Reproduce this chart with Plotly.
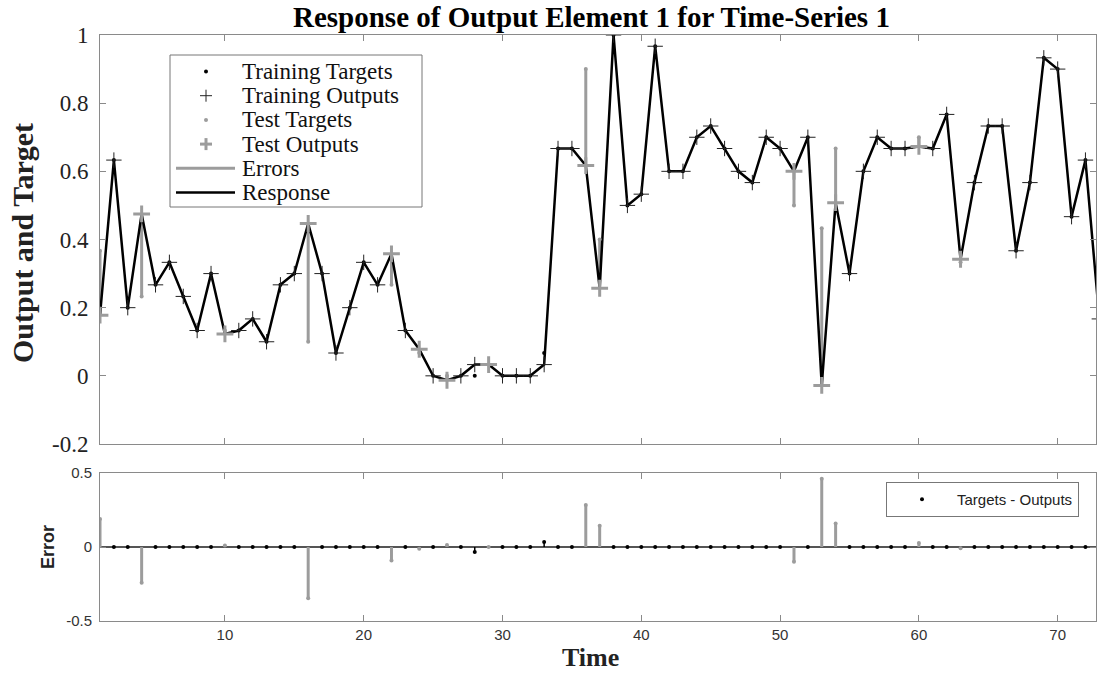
import plotly.graph_objects as go

# ---------------- data ----------------
time = list(range(1, 74))
outputs = [0.178, 0.633, 0.2, 0.475, 0.267, 0.333, 0.233, 0.133, 0.3, 0.123,
           0.133, 0.167, 0.1, 0.267, 0.3, 0.447, 0.3, 0.067, 0.2, 0.333,
           0.267, 0.358, 0.133, 0.078, 0.0, -0.013, 0.0, 0.033, 0.033, 0.0,
           0.0, 0.0, 0.033, 0.667, 0.667, 0.617, 0.257, 1.0, 0.5, 0.533,
           0.967, 0.6, 0.6, 0.7, 0.733, 0.667, 0.6, 0.567, 0.7, 0.667,
           0.6, 0.7, -0.028, 0.508, 0.3, 0.6, 0.7, 0.667, 0.667, 0.673,
           0.667, 0.767, 0.342, 0.567, 0.733, 0.733, 0.367, 0.567, 0.933, 0.9,
           0.467, 0.633, 0.167]
targets = [0.367, 0.633, 0.2, 0.233, 0.267, 0.333, 0.233, 0.133, 0.3, 0.133,
           0.133, 0.167, 0.1, 0.267, 0.3, 0.1, 0.3, 0.067, 0.2, 0.333,
           0.267, 0.267, 0.133, 0.067, 0.0, 0.0, 0.0, 0.0, 0.033, 0.0,
           0.0, 0.0, 0.067, 0.667, 0.667, 0.9, 0.4, 1.0, 0.5, 0.533,
           0.967, 0.6, 0.6, 0.7, 0.733, 0.667, 0.6, 0.567, 0.7, 0.667,
           0.5, 0.7, 0.433, 0.667, 0.3, 0.6, 0.7, 0.667, 0.667, 0.7,
           0.667, 0.767, 0.333, 0.567, 0.733, 0.733, 0.367, 0.567, 0.933, 0.9,
           0.467, 0.633, 0.167]
test_times = [1, 4, 10, 16, 22, 24, 26, 29, 36, 37, 51, 53, 54, 60, 63]
x_ticks = [10, 20, 30, 40, 50, 60, 70]
y_ticks_top = [-0.2, 0, 0.2, 0.4, 0.6, 0.8, 1]
y_ticklabels_top = ["-0.2", "0", "0.2", "0.4", "0.6", "0.8", "1"]
y_ticks_err = [-0.5, 0, 0.5]
y_ticklabels_err = ["-0.5", "0", "0.5"]
legend_labels = ["Training Targets", "Training Outputs", "Test Targets",
                 "Test Outputs", "Errors", "Response"]

# ---------------- derived ----------------
errors = [t - o for t, o in zip(targets, outputs)]
is_test = [tt in test_times for tt in time]
tr_t = [tt for tt, f in zip(time, is_test) if not f]
tr_tar = [v for v, f in zip(targets, is_test) if not f]
tr_out = [v for v, f in zip(outputs, is_test) if not f]
tr_err = [v for v, f in zip(errors, is_test) if not f]
te_t = [tt for tt, f in zip(time, is_test) if f]
te_tar = [v for v, f in zip(targets, is_test) if f]
te_out = [v for v, f in zip(outputs, is_test) if f]
te_err = [v for v, f in zip(errors, is_test) if f]

seg_x, seg_y = [], []
for tt, a, b in zip(te_t, te_tar, te_out):
    seg_x += [tt, tt, None]
    seg_y += [a, b, None]

stem_x, stem_y = [], []
for tt, e in zip(te_t, te_err):
    stem_x += [tt, tt, None]
    stem_y += [0, e, None]
trstem_x, trstem_y = [], []
for tt, e in zip(tr_t, tr_err):
    trstem_x += [tt, tt, None]
    trstem_y += [0, e, None]

GRAY = "#9c9c9c"
AX = "#8a8a8a"
SERIF = "Liberation Serif"
SANS = "Liberation Sans"

W, H = 1097, 673
ML, MR, MT, MB = 100, 1, 35, 52
PW, PH = W - ML - MR, H - MT - MB


def px(xpix):
    return (xpix - ML) / PW


def py(ypix):
    return (H - MB - ypix) / PH


fig = go.Figure()

# top plot
fig.add_trace(go.Scatter(x=seg_x, y=seg_y, mode="lines", name="Errors",
                         line=dict(color=GRAY, width=3), showlegend=False,
                         xaxis="x", yaxis="y"))
fig.add_trace(go.Scatter(x=time, y=outputs, mode="lines", name="Response",
                         line=dict(color="black", width=2.5), showlegend=False,
                         xaxis="x", yaxis="y"))
fig.add_trace(go.Scatter(x=tr_t, y=tr_tar, mode="markers", name="Training Targets",
                         marker=dict(color="black", size=4), showlegend=False,
                         xaxis="x", yaxis="y"))
fig.add_trace(go.Scatter(x=tr_t, y=tr_out, mode="markers", name="Training Outputs",
                         marker=dict(symbol="cross-thin", size=11,
                                     line=dict(color="#222", width=1)),
                         showlegend=False, xaxis="x", yaxis="y"))
fig.add_trace(go.Scatter(x=te_t, y=te_tar, mode="markers", name="Test Targets",
                         marker=dict(color=GRAY, size=4), showlegend=False,
                         xaxis="x", yaxis="y"))
fig.add_trace(go.Scatter(x=te_t, y=te_out, mode="markers", name="Test Outputs",
                         marker=dict(symbol="cross-thin", size=12,
                                     line=dict(color=GRAY, width=3)),
                         showlegend=False, xaxis="x", yaxis="y"))

# bottom plot
fig.add_trace(go.Scatter(x=stem_x, y=stem_y, mode="lines", showlegend=False,
                         line=dict(color=GRAY, width=3), xaxis="x2", yaxis="y2"))
fig.add_trace(go.Scatter(x=trstem_x, y=trstem_y, mode="lines", showlegend=False,
                         line=dict(color="black", width=1.5), xaxis="x2", yaxis="y2"))
fig.add_trace(go.Scatter(x=te_t, y=te_err, mode="markers", showlegend=False,
                         marker=dict(color=GRAY, size=4), xaxis="x2", yaxis="y2"))
fig.add_trace(go.Scatter(x=tr_t, y=tr_err, mode="markers", name="Targets - Outputs",
                         marker=dict(color="black", size=4), legend="legend2",
                         xaxis="x2", yaxis="y2"))

# ---------------- legend of the top plot (layout glyphs) ----------------
shapes = []
annotations = []
box_l, box_r, box_t, box_b = 170, 422, 55, 207
shapes.append(dict(type="rect", xref="paper", yref="paper", layer="above",
                   x0=px(box_l), x1=px(box_r), y0=py(box_b), y1=py(box_t),
                   line=dict(color="#777", width=1), fillcolor="white"))
sym_cx, line_l, line_r, text_l = 206, 176, 235, 240
for i, lab in enumerate(legend_labels):
    cy = 71.5 + 24.2 * i
    if lab in ("Training Targets", "Test Targets"):
        col = "black" if lab.startswith("Training") else GRAY
        shapes.append(dict(type="circle", xref="paper", yref="paper", layer="above",
                           x0=px(sym_cx - 2), x1=px(sym_cx + 2),
                           y0=py(cy + 2), y1=py(cy - 2),
                           fillcolor=col, line=dict(color=col, width=0)))
    elif lab in ("Training Outputs", "Test Outputs"):
        col, lw, arm = (("#222", 1, 6) if lab.startswith("Training")
                        else (GRAY, 3, 6))
        shapes.append(dict(type="line", xref="paper", yref="paper", layer="above",
                           x0=px(sym_cx - arm), x1=px(sym_cx + arm),
                           y0=py(cy), y1=py(cy), line=dict(color=col, width=lw)))
        shapes.append(dict(type="line", xref="paper", yref="paper", layer="above",
                           x0=px(sym_cx), x1=px(sym_cx),
                           y0=py(cy - arm), y1=py(cy + arm),
                           line=dict(color=col, width=lw)))
    else:
        col, lw = (GRAY, 3) if lab == "Errors" else ("black", 2.5)
        shapes.append(dict(type="line", xref="paper", yref="paper", layer="above",
                           x0=px(line_l), x1=px(line_r), y0=py(cy), y1=py(cy),
                           line=dict(color=col, width=lw)))
    annotations.append(dict(text=lab, x=px(text_l), y=py(cy), xref="paper",
                            yref="paper", showarrow=False, xanchor="left",
                            yanchor="middle",
                            font=dict(family=SERIF, size=23, color="#111")))

annotations += [
    dict(text="<b>Response of Output Element 1 for Time-Series 1</b>",
         x=px(591), y=py(17), xref="paper", yref="paper", showarrow=False,
         xanchor="center", yanchor="middle",
         font=dict(family=SERIF, size=29, color="black")),
    dict(text="<b>Output and Target</b>", x=px(23), y=py(243), xref="paper",
         yref="paper", showarrow=False, textangle=-90, xanchor="center",
         yanchor="middle", font=dict(family=SERIF, size=30, color="#222")),
    dict(text="<b>Error</b>", x=px(48), y=py(547), xref="paper", yref="paper",
         showarrow=False, textangle=-90, xanchor="center", yanchor="middle",
         font=dict(family=SANS, size=18, color="#222")),
    dict(text="<b>Time</b>", x=px(590), y=py(657), xref="paper", yref="paper",
         showarrow=False, xanchor="center", yanchor="middle",
         font=dict(family=SERIF, size=26, color="#222")),
]

axis_common = dict(showline=True, linecolor=AX, linewidth=1, mirror="ticks",
                   ticks="inside", ticklen=6, tickcolor=AX, showgrid=False)

fig.update_layout(
    width=W, height=H,
    margin=dict(l=ML, r=MR, t=MT, b=MB),
    plot_bgcolor="white", paper_bgcolor="white",
    xaxis=dict(domain=[0, 1], range=[1, 72.76], tickvals=x_ticks,
               showticklabels=False, anchor="y", zeroline=False, **axis_common),
    yaxis=dict(domain=[py(444), 1], range=[-0.2, 1], tickvals=y_ticks_top,
               ticktext=y_ticklabels_top, anchor="x", ticklabelstandoff=6,
               zeroline=False,
               tickfont=dict(family=SERIF, size=23, color="#222"), **axis_common),
    xaxis2=dict(domain=[0, 1], range=[1, 72.76], tickvals=x_ticks, anchor="y2",
                zeroline=False,
                tickfont=dict(family=SANS, size=15, color="#333"), **axis_common),
    yaxis2=dict(domain=[0, py(473)], range=[-0.5, 0.5], tickvals=y_ticks_err,
                ticktext=y_ticklabels_err, anchor="x2", ticklabelstandoff=4,
                tickfont=dict(family=SANS, size=15, color="#333"),
                zeroline=True, zerolinecolor="#555", zerolinewidth=1.5,
                **axis_common),
    legend2=dict(x=px(886), y=py(482), xanchor="left", yanchor="top",
                 bgcolor="white", bordercolor="#777", borderwidth=1,
                 font=dict(family=SANS, size=15, color="#222"),
                 itemwidth=60),
    showlegend=True,
    shapes=shapes,
    annotations=annotations,
)

fig.write_html("out.html", config={"displayModeBar": False},
               post_script="document.body.style.margin='0';"
                           "document.body.style.overflow='hidden';")
